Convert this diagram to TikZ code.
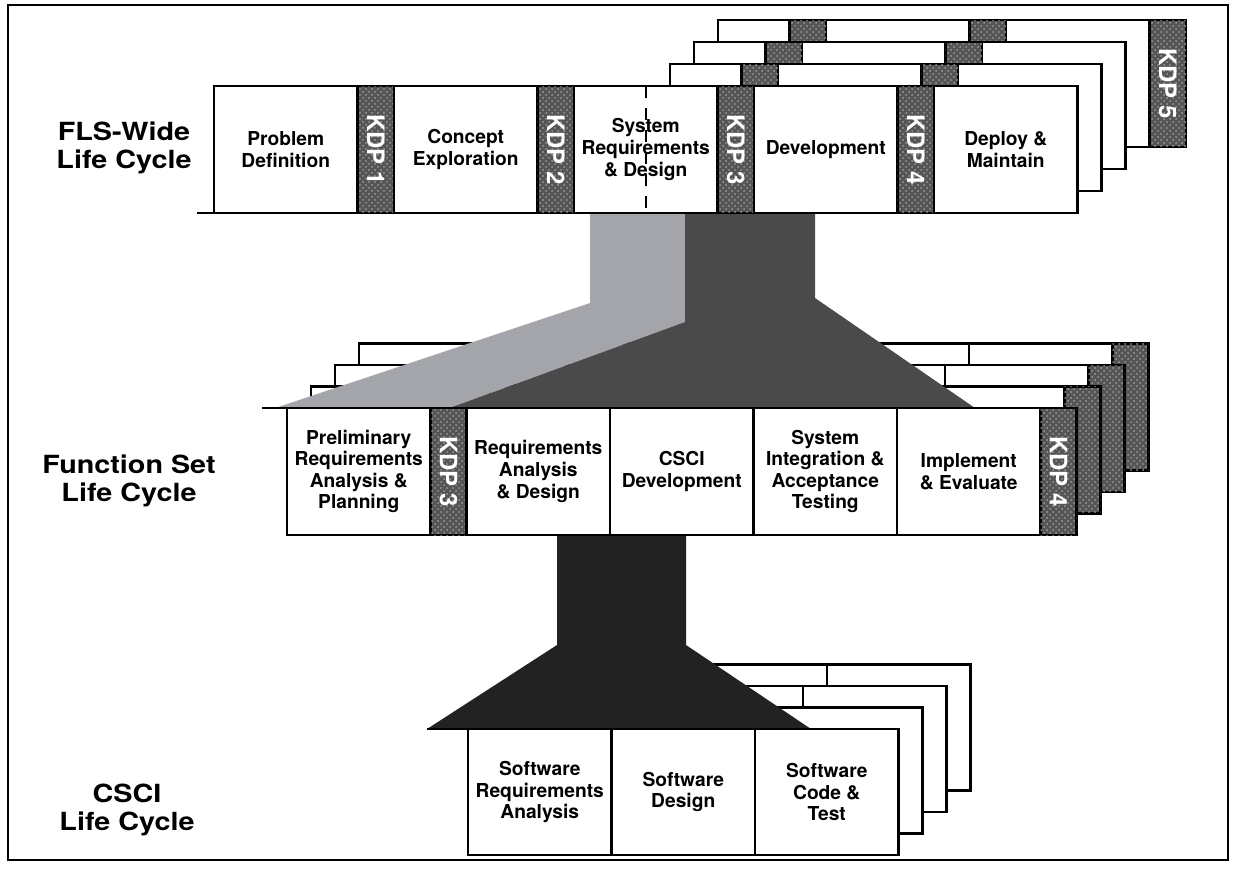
\documentclass[tikz,border=0pt]{standalone}
\usepackage{fontspec}
\setmainfont{TeX Gyre Heros}
\newfontfamily\lcfont[FakeStretch=1.15]{TeX Gyre Heros}
\usepackage{graphicx}
\usepackage{xcolor}
\definecolor{kdpgray}{HTML}{555555}
\definecolor{kdpdots}{HTML}{9A9A9A}
\definecolor{funlight}{HTML}{A3A5AB}
\definecolor{fundark}{HTML}{4A4A4A}
\definecolor{funblack}{HTML}{222222}
\usetikzlibrary{positioning,patterns}

\begin{document}
\begin{tikzpicture}[x=0.5pt,y=-0.5pt,
  phase/.style={draw, fill=white, line width=1.1pt, outer sep=0pt, inner sep=1pt,
                minimum width=71.75pt, minimum height=63.5pt, align=center,
                font=\fontsize{9.6}{10.8}\selectfont\bfseries},
  kdp/.style={draw, fill=kdpgray, line width=1.1pt, outer sep=0pt, inner sep=0pt,
              minimum width=18.25pt, minimum height=63.5pt, text=white,
              postaction={pattern=crosshatch dots, pattern color=kdpdots},
              font=\fontsize{12}{12}\selectfont\bfseries},
  layer/.style={draw, fill=white, line width=1.1pt},
  kdpbar/.style={draw, fill=kdpgray, line width=1.1pt,
                 postaction={pattern=crosshatch dots, pattern color=kdpdots}},
  level/.style={align=center, font=\lcfont\fontsize{12.5}{14}\selectfont\bfseries}
]
  \useasboundingbox (0,0) rectangle (1233,869);
  \draw[line width=1pt] (8,5) rectangle (1228,860);

  % FLS-wide: layers behind
  \draw[layer] (717.75,20) rectangle (1149.5,147);
  \draw[kdpbar] (789.5,20) rectangle (826,147);
  \draw[kdpbar] (969.5,20) rectangle (1006,147);
  \node[kdp] (kdp5) at (1167.75,83.5) {\rotatebox{-90}{KDP 5}};
  \draw[layer] (693.75,42) rectangle (1125.5,169);
  \draw[kdpbar] (765.5,42) rectangle (802,169);
  \draw[kdpbar] (945.5,42) rectangle (982,169);
  \draw[layer] (669.75,64) rectangle (1101.5,191);
  \draw[kdpbar] (741.5,64) rectangle (778,191);
  \draw[kdpbar] (921.5,64) rectangle (958,191);

  % Function set: layers behind
  \draw[layer] (359,343.5) rectangle (1148.5,470.5);
  \draw[kdpbar] (502.5,343.5) rectangle (538.5,470.5);
  \draw[kdpbar] (1112.5,343.5) rectangle (1148.5,470.5);
  \draw[line width=1.1pt] (682,343.5) -- (682,470.5) (825.5,343.5) -- (825.5,470.5)
                          (969,343.5) -- (969,470.5);
  \draw[layer] (335,365) rectangle (1124.5,492);
  \draw[kdpbar] (478.5,365) rectangle (514.5,492);
  \draw[kdpbar] (1088.5,365) rectangle (1124.5,492);
  \draw[line width=1.1pt] (658,365) -- (658,492) (801.5,365) -- (801.5,492)
                          (945,365) -- (945,492);
  \draw[layer] (311,386.5) rectangle (1100.5,513.5);
  \draw[kdpbar] (454.5,386.5) rectangle (490.5,513.5);
  \draw[kdpbar] (1064.5,386.5) rectangle (1100.5,513.5);
  \draw[line width=1.1pt] (634,386.5) -- (634,513.5) (777.5,386.5) -- (777.5,513.5)
                          (921,386.5) -- (921,513.5);

  % funnel FLS -> function set
  \fill[funlight] (590,213) -- (685,213) -- (685,322) -- (450,408) -- (275,408)
                  -- (590,303) -- cycle;
  \fill[fundark] (685,213) -- (815,213) -- (815,298) -- (975,408) -- (450,408)
                 -- (685,322) -- cycle;

  % CSCI: layers behind
  \draw[layer] (540,664.5) rectangle (970.5,790.5);
  \draw[line width=1.1pt] (683.5,664.5) -- (683.5,790.5) (827,664.5) -- (827,790.5);
  \draw[layer] (516,686) rectangle (946.5,812);
  \draw[line width=1.1pt] (659.5,686) -- (659.5,812) (803,686) -- (803,812);
  \draw[layer] (492,707.5) rectangle (922.5,833.5);
  \draw[line width=1.1pt] (635.5,707.5) -- (635.5,833.5) (779,707.5) -- (779,833.5);

  % funnel function set -> CSCI
  \fill[funblack] (557,535) -- (686,535) -- (686,645) -- (811,729) -- (427,729)
                  -- (557,645) -- cycle;

  % FLS-wide row
  \node[phase] (probdef) at (285.75,149.5) {Problem\\Definition};
  \node[kdp, right=0pt of probdef] (kdp1) {\rotatebox{-90}{KDP 1}};
  \node[phase, right=0pt of kdp1] (concept) {Concept\\Exploration};
  \node[kdp, right=0pt of concept] (kdp2) {\rotatebox{-90}{KDP 2}};
  \node[phase, right=0pt of kdp2] (sysreq) {System\\Requirements\\\& Design};
  \node[kdp, right=0pt of sysreq] (kdp3) {\rotatebox{-90}{KDP 3}};
  \node[phase, right=0pt of kdp3] (develop) {Development};
  \node[kdp, right=0pt of develop] (kdp4) {\rotatebox{-90}{KDP 4}};
  \node[phase, right=0pt of kdp4] (deploy) {Deploy \&\\Maintain};
  \draw[line width=1pt, dash pattern=on 6pt off 5pt] (sysreq.north) -- (sysreq.south);
  \coordinate (flsend) at (197,213);
  \draw[line width=1.1pt] (flsend) -- (probdef.south west);

  % Function set row
  \node[phase] (prelim) at (358.75,471.5)
    {Preliminary\\Requirements\\Analysis \&\\Planning};
  \node[kdp, minimum width=18pt, right=0pt of prelim] (fskdp3) {\rotatebox{-90}{KDP 3}};
  \node[phase, right=0pt of fskdp3] (reqan) {Requirements\\Analysis\\\& Design};
  \node[phase, right=0pt of reqan] (cscidev) {CSCI\\Development};
  \node[phase, right=0pt of cscidev] (sysint)
    {System\\Integration \&\\Acceptance\\Testing};
  \node[phase, right=0pt of sysint] (impl) {Implement\\\& Evaluate};
  \node[kdp, minimum width=18pt, right=0pt of impl] (fskdp4) {\rotatebox{-90}{KDP 4}};
  \coordinate (fsend) at (262,408);
  \draw[line width=1.1pt] (fsend) -- (prelim.north west);

  % CSCI row
  \node[phase, minimum height=63pt] (swreq) at (539.75,792)
    {Software\\Requirements\\Analysis};
  \node[phase, minimum height=63pt, right=0pt of swreq] (swdes) {Software\\Design};
  \node[phase, minimum height=63pt, right=0pt of swdes] (swcode) {Software\\Code \&\\Test};
  \coordinate (csend) at (427,729);
  \draw[line width=1.1pt] (csend) -- (swreq.north west);

  % row labels
  \node[level] (fls) at (124,148) {FLS-Wide\\Life Cycle};
  \node[level] (fset) at (129,481) {Function Set\\Life Cycle};
  \node[level] (csci) at (127,810) {CSCI\\Life Cycle};
\end{tikzpicture}
\end{document}
